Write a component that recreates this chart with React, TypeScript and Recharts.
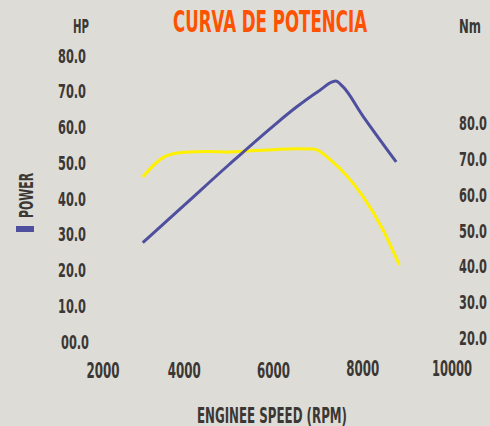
import React from "react";
import { LineChart, Line, XAxis, YAxis } from "recharts";

if (typeof document !== "undefined") {
  document.body.style.margin = "0";
  document.body.style.background = "#dddcd6";
}

const FONT = "'Liberation Sans Narrow', 'DejaVu Sans Condensed', 'Roboto', sans-serif";
const TEXT = "#3b3734";
const BG = "#dddcd6";
const PURPLE = "#4f4f9f";
const YELLOW = "#fff000";

const rpmTicks = [2000, 4000, 6000, 8000, 10000];
const hpTicks = [0, 10, 20, 30, 40, 50, 60, 70, 80];
const nmTicks = [20, 30, 40, 50, 60, 70, 80];

const powerRpm = [3070, 4000, 5000, 6000, 6500, 7000, 7390, 7550, 8000, 8750];
const powerHp = [27.5, 38.0, 49.3, 60.2, 65.3, 69.8, 72.7, 71.2, 63.0, 50.1];

const torqueRpm = [3070, 3600, 4000, 4500, 5000, 5500, 6000, 6500, 6900, 7300, 8000, 8450, 8820];
const torqueNm = [64.9, 70.8, 71.8, 72.0, 71.9, 72.2, 72.5, 72.8, 72.7, 69.4, 59.5, 50.2, 40.3];

const powerData = powerRpm.map((rpm, i) => ({ rpm, hp: powerHp[i] }));
const torqueData = torqueRpm.map((rpm, i) => ({ rpm, nm: torqueNm[i] }));

const LeftTick = (props: any) => {
  const { x, y, payload } = props;
  const v = payload.value as number;
  const label = v === 0 ? "00.0" : v.toFixed(1);
  return (
    <text
      x={v === 0 ? x + 3 : x}
      y={y}
      dy={7.5}
      textAnchor="end"
      fill={TEXT}
      fontFamily={FONT}
      fontWeight="bold"
      fontSize={20}
      textLength={28}
      lengthAdjust="spacingAndGlyphs"
    >
      {label}
    </text>
  );
};

const RightTick = (props: any) => {
  const { x, y, payload } = props;
  const v = payload.value as number;
  return (
    <text
      x={x}
      y={y}
      dy={7.5}
      textAnchor="start"
      fill={TEXT}
      fontFamily={FONT}
      fontWeight="bold"
      fontSize={20}
      textLength={28}
      lengthAdjust="spacingAndGlyphs"
    >
      {v.toFixed(1)}
    </text>
  );
};

const BottomTick = (props: any) => {
  const { x, y, payload } = props;
  const v = payload.value as number;
  const label = String(v);
  const w = label.length === 5 ? 40 : 33;
  return (
    <text
      x={v === 2000 ? x + 8 : x}
      y={y}
      dy={v >= 8000 ? 35 : 37}
      textAnchor="middle"
      fill={TEXT}
      fontFamily={FONT}
      fontWeight="bold"
      fontSize={22}
      textLength={w}
      lengthAdjust="spacingAndGlyphs"
    >
      {label}
    </text>
  );
};

export default function App() {
  return (
    <div style={{ position: "relative", width: 490, height: 426, background: BG }}>
      <LineChart
        width={490}
        height={426}
        margin={{ top: 55, right: 0, bottom: 0, left: 0 }}
        style={{ background: BG }}
      >
        <XAxis
          xAxisId="x"
          type="number"
          dataKey="rpm"
          domain={[2000, 10000]}
          ticks={rpmTicks}
          height={85}
          axisLine={false}
          tickLine={false}
          tickSize={0}
          tickMargin={0}
          tick={BottomTick}
          allowDataOverflow
        />
        <YAxis
          yAxisId="hp"
          orientation="left"
          domain={[0, 80]}
          ticks={hpTicks}
          width={95}
          axisLine={false}
          tickLine={false}
          tickSize={0}
          tickMargin={9}
          tick={LeftTick}
          interval={0}
        />
        <YAxis
          yAxisId="nm"
          orientation="right"
          domain={[19, 99]}
          ticks={nmTicks}
          width={38}
          axisLine={false}
          tickLine={false}
          tickSize={0}
          tickMargin={7}
          tick={RightTick}
          interval={0}
        />
        <Line
          xAxisId="x"
          yAxisId="nm"
          data={torqueData}
          dataKey="nm"
          type="monotone"
          stroke={YELLOW}
          strokeWidth={3}
          dot={false}
          isAnimationActive={false}
        />
        <Line
          xAxisId="x"
          yAxisId="hp"
          data={powerData}
          dataKey="hp"
          type="monotone"
          stroke={PURPLE}
          strokeWidth={3}
          dot={false}
          isAnimationActive={false}
        />
      </LineChart>
      <svg
        width={490}
        height={426}
        style={{ position: "absolute", left: 0, top: 0, pointerEvents: "none" }}
      >
        <text
          x={270}
          y={32}
          textAnchor="middle"
          fill="#ff5200"
          fontFamily={FONT}
          fontWeight="bold"
          fontSize={30}
          textLength={194}
          lengthAdjust="spacingAndGlyphs"
        >
          CURVA DE POTENCIA
        </text>
        <text
          x={81}
          y={33}
          textAnchor="middle"
          fill={TEXT}
          fontFamily={FONT}
          fontWeight="bold"
          fontSize={20}
          textLength={16}
          lengthAdjust="spacingAndGlyphs"
        >
          HP
        </text>
        <text
          x={470}
          y={33}
          textAnchor="middle"
          fill={TEXT}
          fontFamily={FONT}
          fontWeight="bold"
          fontSize={19}
          textLength={22}
          lengthAdjust="spacingAndGlyphs"
        >
          Nm
        </text>
        <text
          x={272}
          y={423}
          textAnchor="middle"
          fill={TEXT}
          fontFamily={FONT}
          fontWeight="bold"
          fontSize={21}
          textLength={150}
          lengthAdjust="spacingAndGlyphs"
        >
          ENGINEE SPEED (RPM)
        </text>
        <text
          x={33}
          y={195.5}
          transform="rotate(-90 33 195.5)"
          textAnchor="middle"
          fill={TEXT}
          fontFamily={FONT}
          fontWeight="bold"
          fontSize={20}
          textLength={45}
          lengthAdjust="spacingAndGlyphs"
        >
          POWER
        </text>
        <rect x={16} y={226} width={18} height={6} fill={PURPLE} />
      </svg>
    </div>
  );
}
